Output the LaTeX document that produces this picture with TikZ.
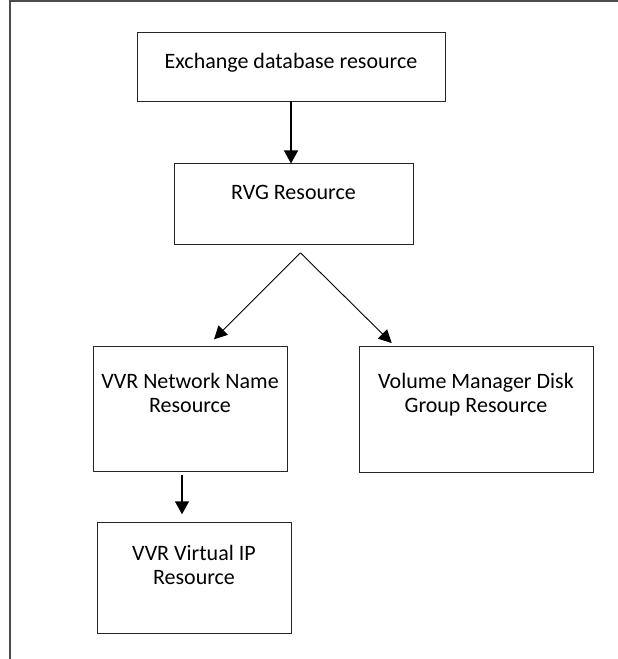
\documentclass[tikz,border=0pt]{standalone}
\usepackage{fontspec}
\setmainfont{Carlito}
\usepackage{tikz}
\usetikzlibrary{positioning,arrows.meta}

\begin{document}
\begin{tikzpicture}[
    x=1pt, y=1pt,
    >={Triangle[width=14pt,length=13pt]},
    frame/.style={draw=black!70, line width=1.3pt},
    link/.style={->, draw, line width=1.6pt},
    split/.style={->, draw, line width=0.9pt, >={Triangle[width=13pt,length=13pt]}},
    every node/.style={draw=black!85, line width=0.9pt, inner sep=0pt, align=center,
font=\fontsize{22}{24}\selectfont}]

    \useasboundingbox (0,0) rectangle (618,-659);
    \draw[frame] (10,-659) |- (618,-1);

    \node[minimum width=308pt, text height=36pt, text depth=33pt] (exch) at (291,-66.5) {Exchange database resource};
    \node[minimum width=239pt, text height=36pt, text depth=45pt, below=62pt of exch, xshift=2.5pt] (rvg) {RVG Resource};
        \coordinate (fork) at ([xshift=7pt,yshift=-7.5pt]rvg.south);
        \node[minimum width=194pt, text height=66pt, text depth=59pt, below=101pt of rvg, xshift=-103.5pt] (net) {VVR Network Name\\Resource};
            \node[minimum width=194pt, text height=62pt, text depth=49pt, below=50pt of net, xshift=4pt] (vip) {VVR Virtual IP\\Resource};
        \node[minimum width=234pt, text height=66pt, text depth=60pt, below=101pt of rvg, xshift=182.5pt] (vmdg) {Volume Manager Disk\\Group Resource};

    \draw[link] (exch.south) -- ([xshift=-2.5pt]rvg.north);
    \draw[split] (fork) -- ([shift={(24pt,7pt)}]net.north);
    \draw[split] (fork) -- ([shift={(-84.3pt,3.3pt)}]vmdg.north);
    \draw[link, shorten <=3pt, shorten >=8pt] ([xshift=-8pt]net.south) -- ([xshift=-12pt]vip.north);

\end{tikzpicture}
\end{document}
